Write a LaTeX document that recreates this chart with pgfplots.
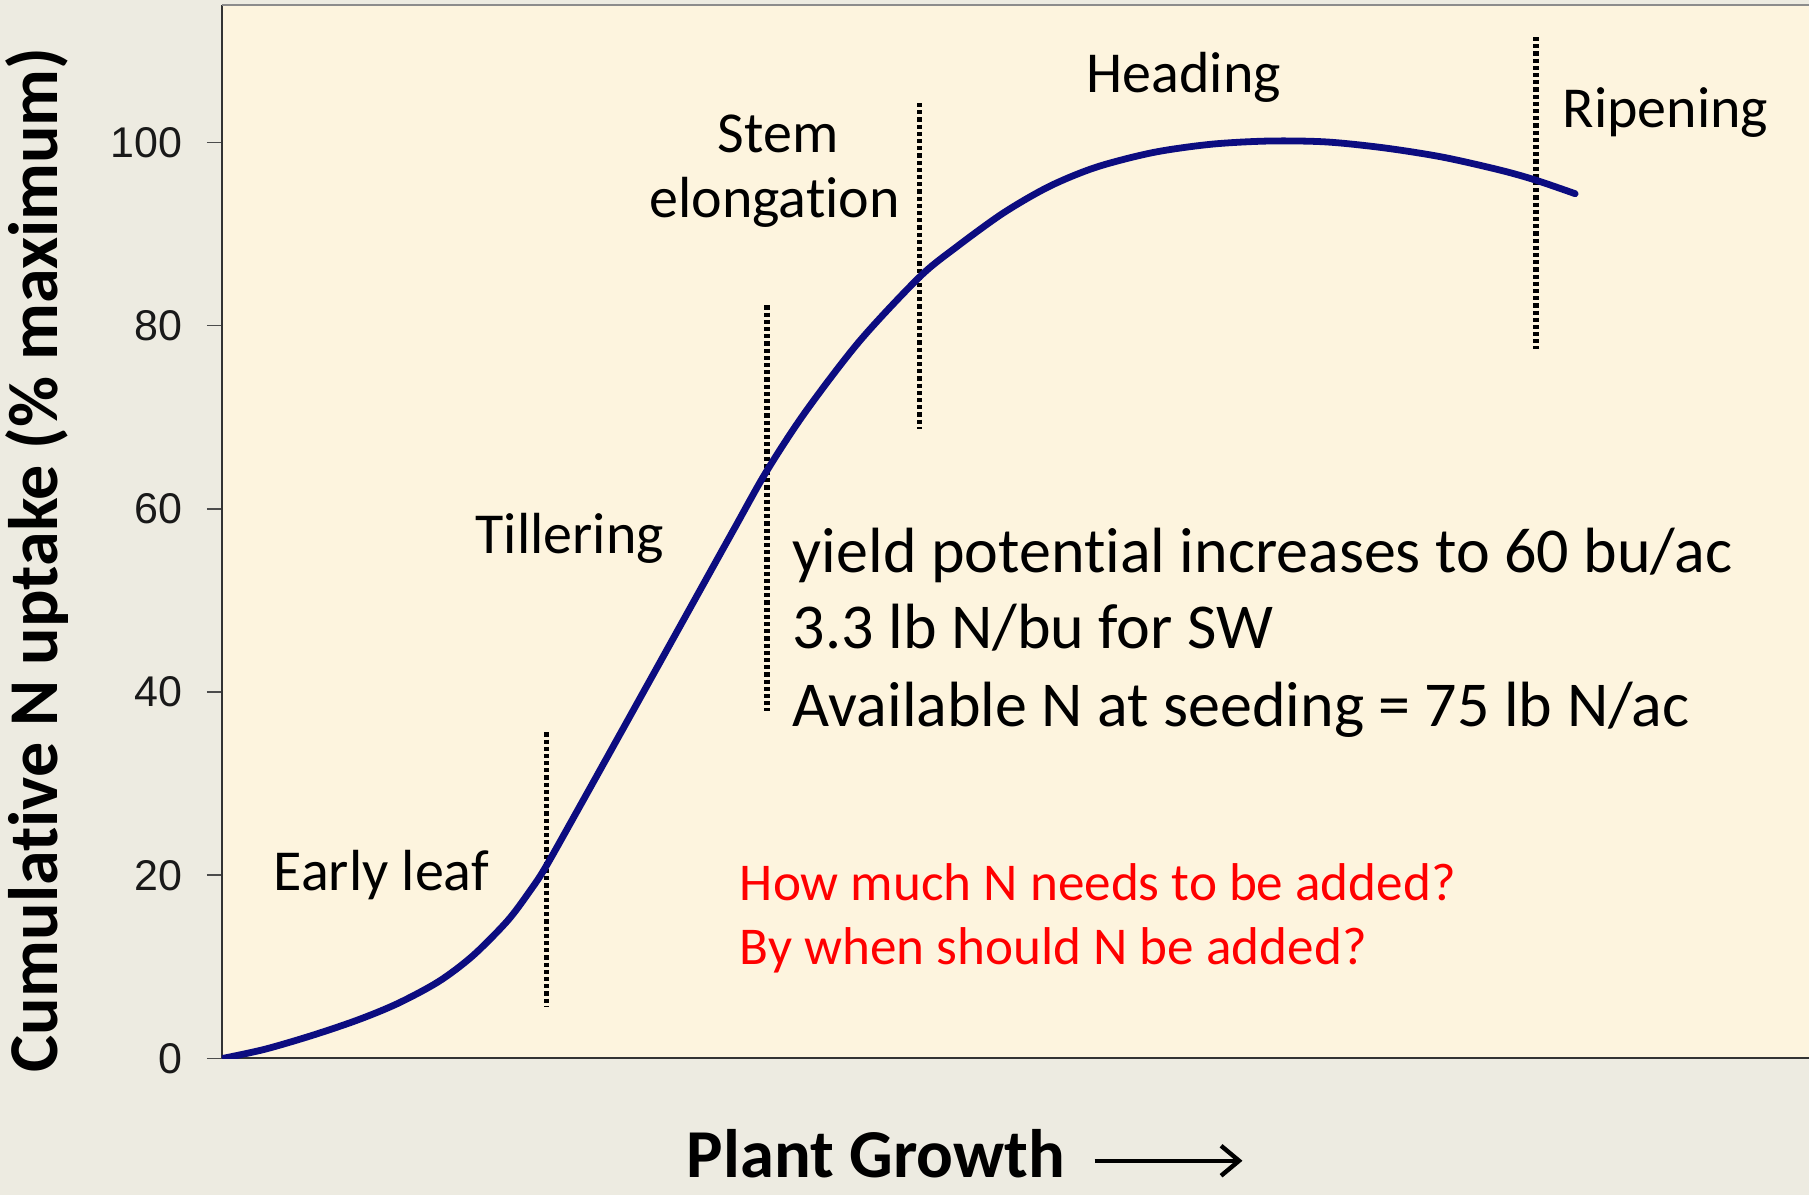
\documentclass[border=0pt]{standalone}
\usepackage{fontspec}
\setmainfont{Carlito}[Ligatures={NoCommon,NoContextual,NoRequired}]
\newfontfamily\arialf{Liberation Sans}
\usepackage{pgfplots}
\pgfplotsset{compat=1.18}
\usetikzlibrary{arrows.meta}
\definecolor{pagebg}{RGB}{237,235,225}
\definecolor{plotbg}{RGB}{253,244,222}
\definecolor{curvecol}{RGB}{12,12,128}
\begin{document}
\begin{tikzpicture}
\fill[pagebg] (0,0) rectangle (905pt,598pt);
\begin{axis}[
  at={(111pt,68.5pt)}, anchor=south west,
  scale only axis, width=794pt, height=527pt,
  xmin=222, xmax=1810, ymin=0, ymax=115,
  axis x line*=bottom, axis y line*=left,
  axis line style={-, line width=1pt, color=black!80},
  axis background/.style={fill=plotbg},
  xtick=\empty,
  ytick={0,20,...,100},
  tick align=outside,
  major tick length=7.5pt,
  tick style={line width=0.8pt, color=black!70},
  yticklabel style={font=\arialf\fontsize{21.5}{24}\selectfont, text=black!90, anchor=east, inner sep=0pt, xshift=-12pt},
  /pgf/number format/assume math mode=true,
  ylabel={Cumulative N uptake (\% maximum)},
  ylabel style={at={([xshift=-82.2pt,yshift=-7pt]rel axis cs:0,0)}, anchor=base west, inner sep=0pt, font=\bfseries\fontsize{35}{40}\selectfont},
  xlabel={Plant Growth\hspace{13.5pt}\tikz[baseline=0pt]\draw[line width=2.2pt,-{Straight Barb[length=9pt,width=15pt]}] (0,8.3pt) -- (74pt,8.3pt);},
  xlabel style={at={([yshift=-59.5pt]rel axis cs:0.2928,0)}, anchor=base west, inner sep=0pt, font=\bfseries\fontsize{34.3}{40}\selectfont},
]
\draw[black!45, line width=0.8pt] (rel axis cs:0,1) -- (rel axis cs:1,1);
% dotted stage separators
\addplot[black, line width=2.7pt, dash pattern=on 2.1pt off 1.5pt] coordinates {(546.5,35.6) (546.5,5.7)};
\addplot[black, line width=2.7pt, dash pattern=on 2.1pt off 1.5pt] coordinates {(767.6,82.2) (767.6,37.9)};
\addplot[black, line width=2.7pt, dash pattern=on 2.1pt off 1.5pt] coordinates {(920,104.3) (920,68.7)};
\addplot[black, line width=2.7pt, dash pattern=on 2.1pt off 1.5pt] coordinates {(1536.7,111.5) (1536.7,77.4)};
% cumulative N uptake curve
\addplot[curvecol, line width=3.4pt, smooth, line cap=round] coordinates {
(222.8,0) (265,1.0) (312,2.5) (358,4.2) (398,6.0) (439,8.4) (473,11.2) (508,15.05)
(531,18.4) (546,20.9) (579,27.3) (627,36.7) (681,47.3) (734,57.7) (767,64.1) (806,70.6)
(860,78.3) (920,85.3) (956,88.5) (1004,92.3) (1050,95.2) (1097,97.3) (1154,98.9)
(1212,99.8) (1270,100.15) (1327,100.05) (1385,99.4) (1443,98.4) (1500,97.0) (1536,95.9)
(1576,94.4)};
% stage labels
\node[anchor=base west, inner sep=0pt, font=\fontsize{29}{34}\selectfont] at (axis cs:273.6,18.3) {Early leaf};
\node[anchor=base west, inner sep=0pt, font=\fontsize{29}{34}\selectfont] at (axis cs:475.6,55.1) {Tillering};
\node[anchor=base, inner sep=0pt, font=\fontsize{29}{34}\selectfont] at (axis cs:778.5,98.85) {Stem};
\node[anchor=base, inner sep=0pt, font=\fontsize{29}{34}\selectfont] at (axis cs:775,91.8) {elongat\kern0pt ion};
\node[anchor=base, inner sep=0pt, font=\fontsize{29}{34}\selectfont] at (axis cs:1184.5,105.4) {Heading};
\node[anchor=base west, inner sep=0pt, font=\fontsize{29}{34}\selectfont] at (axis cs:1563,101.6) {Ripening};
% notes
\node[anchor=base west, inner sep=0pt, font=\fontsize{32}{38}\selectfont] at (axis cs:793,53.0) {yield potent\kern0pt ial increases to 60 bu/ac};
\node[anchor=base west, inner sep=0pt, font=\fontsize{32}{38}\selectfont] at (axis cs:793,44.7) {3.3 lb N/bu for SW};
\node[anchor=base west, inner sep=0pt, font=\fontsize{32}{38}\selectfont] at (axis cs:793,36.2) {Available N at seeding = 75 lb N/ac};
\node[anchor=base west, inner sep=0pt, text=red, font=\fontsize{26.6}{32}\selectfont] at (axis cs:740,17.2) {How much N needs to be added?};
\node[anchor=base west, inner sep=0pt, text=red, font=\fontsize{26.6}{32}\selectfont] at (axis cs:740,10.3) {By when should N be added?};
\end{axis}
\end{tikzpicture}
\end{document}
